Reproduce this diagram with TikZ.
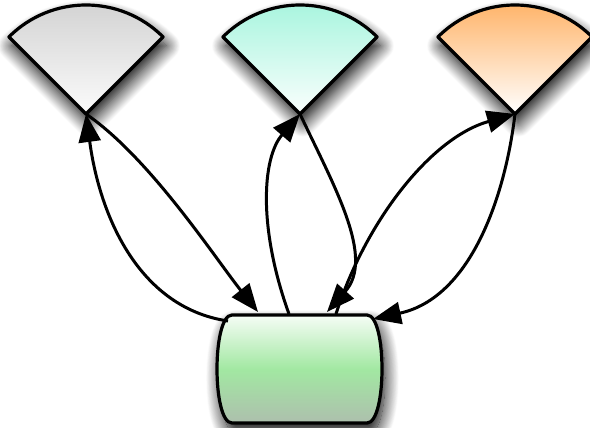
\documentclass[tikz,border=0pt]{standalone}
\usetikzlibrary{arrows.meta,shadows.blur}
\definecolor{fangray}{HTML}{D0D0D0}
\definecolor{fanaqua}{HTML}{A2F4DC}
\definecolor{fanorange}{HTML}{FFAE5E}
\definecolor{cylgreen}{HTML}{A2E8A2}
\definecolor{cylgray}{HTML}{ADBFAD}
\tikzset{
  fan/.style={draw, line width=3.2pt, line join=round,
    blur shadow={shadow xshift=3pt, shadow yshift=-9pt, shadow blur radius=14pt, shadow blur steps=20, shadow opacity=100}},
  link/.style={draw=black, line width=3pt, opacity=1, -{Triangle[length=28pt,width=22pt,fill=black]}}
}
\begin{document}
\begin{tikzpicture}[x=1pt,y=1pt]
  \useasboundingbox (0,0) rectangle (590,428);
  \coordinate (FanA) at (86,314); \coordinate (FanB) at (300,314); \coordinate (FanC) at (515,314);
  \coordinate (CylA) at (228,107); \coordinate (CylB) at (258,116); \coordinate (CylC) at (289,114);
  \coordinate (CylD) at (327,116); \coordinate (CylE) at (336,114); \coordinate (CylF) at (373,109);
  \draw[fan, top color=fangray, bottom color=white!92!fangray] (FanA) -- ++(45:109) arc[start angle=45, end angle=135, radius=109] -- cycle;
  \draw[fan, top color=fanaqua, bottom color=white!95!fanaqua] (FanB) -- ++(45:109) arc[start angle=45, end angle=135, radius=109] -- cycle;
  \draw[fan, top color=fanorange, bottom color=white] (FanC) -- ++(45:109) arc[start angle=45, end angle=135, radius=109] -- cycle;
  \draw[fan, top color=white!90!cylgreen, bottom color=cylgray, middle color=cylgreen]
    (232,113) -- (367,113) .. controls (387,113) and (387,5) .. (367,5)
    -- (232,5) .. controls (212,5) and (212,113) .. (232,113) -- cycle;
  \draw[link] (CylA) .. controls (140,120) and (100,210) .. (FanA);
  \draw[link] (FanA) .. controls (150,270) and (215,170) .. (CylB);
  \draw[link] (CylC) .. controls (258,200) and (262,270) .. (FanB);
  \draw[link] (FanB) .. controls (335,240) and (375,170) .. (CylD);
  \draw[link] (CylE) .. controls (365,205) and (430,290) .. (FanC);
  \draw[link] (FanC) .. controls (505,230) and (470,130) .. (CylF);
\end{tikzpicture}
\end{document}
